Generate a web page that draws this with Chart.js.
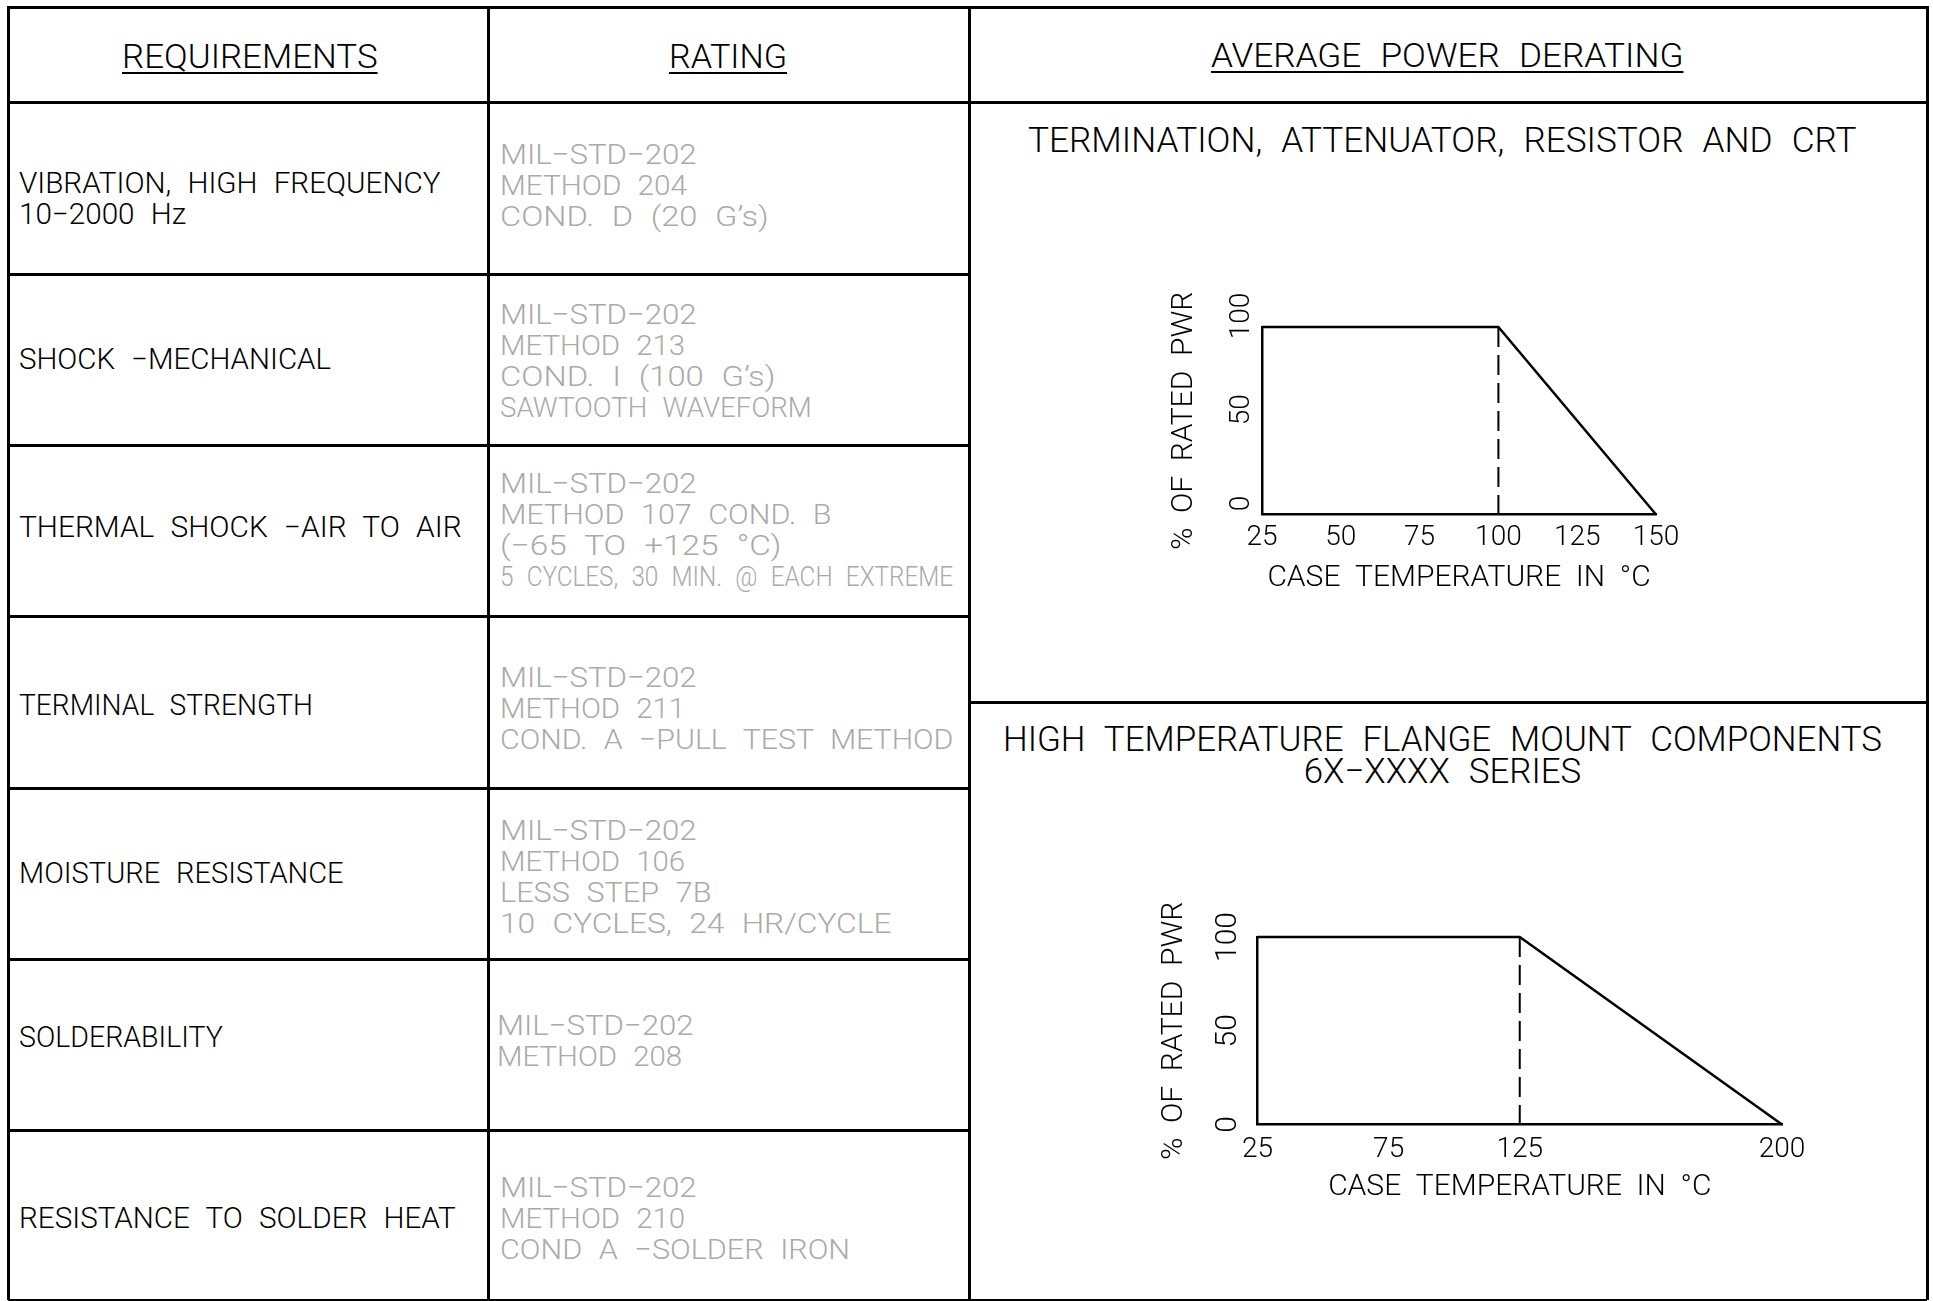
<!DOCTYPE html>
<html><head><meta charset="utf-8">
<script src="https://cdn.jsdelivr.net/npm/chart.js@4.4.1/dist/chart.umd.min.js"></script>
<style>
html,body{margin:0;padding:0;background:#fff;width:1933px;height:1301px;overflow:hidden;}
#page{position:relative;width:1933px;height:1301px;}
.ln{position:absolute;background:#000;}
.t{position:absolute;white-space:pre;font-family:Roboto,"Liberation Sans",sans-serif;font-weight:300;color:#000;transform-origin:left center;word-spacing:0.3em;}
.g{color:#aaaaaa;}
.u{text-decoration:underline;text-decoration-thickness:2px;text-underline-offset:4px;}
canvas{position:absolute;}
</style></head><body><div id="page"></div>
<script>
// ---------------- DATA ----------------
const headers = ["REQUIREMENTS", "RATING", "AVERAGE POWER DERATING"];
const requirements = [
  ["VIBRATION, HIGH FREQUENCY", "10−2000 Hz"],
  ["SHOCK −MECHANICAL"],
  ["THERMAL SHOCK −AIR TO AIR"],
  ["TERMINAL STRENGTH"],
  ["MOISTURE RESISTANCE"],
  ["SOLDERABILITY"],
  ["RESISTANCE TO SOLDER HEAT"]
];
const ratings = [
  ["MIL−STD−202", "METHOD 204", "COND. D (20 G’s)"],
  ["MIL−STD−202", "METHOD 213", "COND. I (100 G’s)", "SAWTOOTH WAVEFORM"],
  ["MIL−STD−202", "METHOD 107 COND. B", "(−65 TO +125 °C)", "5 CYCLES, 30 MIN. @ EACH EXTREME"],
  ["MIL−STD−202", "METHOD 211", "COND. A −PULL TEST METHOD"],
  ["MIL−STD−202", "METHOD 106", "LESS STEP 7B", "10 CYCLES, 24 HR/CYCLE"],
  ["MIL−STD−202", "METHOD 208"],
  ["MIL−STD−202", "METHOD 210", "COND A −SOLDER IRON"]
];
const chart1Title = "TERMINATION, ATTENUATOR, RESISTOR AND CRT";
const chart2Title = ["HIGH TEMPERATURE FLANGE MOUNT COMPONENTS", "6X−XXXX SERIES"];
const yAxisTitle = "% OF RATED PWR";
const xAxisTitle = "CASE TEMPERATURE IN °C";
const yTickValues = [0, 50, 100];

// chart 1: termination, attenuator, resistor and CRT
const c1XTicks = [25, 50, 75, 100, 125, 150];
const c1Temp = [25, 100, 150];
const c1Power = [100, 100, 0];
const c1KneeTemp = 100;

// chart 2: high temperature flange mount (non-linear CAD axis)
const c2XLabels = ["25", "75", "125", "", "200"];
const c2Temp = ["25", "125", "200"];
const c2Power = [100, 100, 0];
const c2KneeTemp = "125";

// ---------------- LAYOUT ----------------
const FONT = 'Roboto, "Liberation Sans", sans-serif';
const wide = s => s.replace(/ /g, '  ');   // CAD-style wide word gaps
const page = document.getElementById('page');
function line(x, y, w, h) {
  const d = document.createElement('div');
  d.className = 'ln';
  d.style.left = x + 'px'; d.style.top = y + 'px';
  d.style.width = w + 'px'; d.style.height = h + 'px';
  page.appendChild(d);
}
// place text (one or more lines) with first-line caps centred on yc, widest line fitted to width w
function text(str, x, yc, size, w, o = {}) {
  const d = document.createElement('div');
  d.className = 't' + (o.cls ? ' ' + o.cls : '');
  d.textContent = str;
  const L = o.lh || 0.85 * size;
  d.style.fontSize = size + 'px';
  d.style.lineHeight = L + 'px';
  if (o.center) d.style.textAlign = 'center';
  d.style.top = (yc - L / 2 + 0.014 * size) + 'px';
  page.appendChild(d);
  const nat = d.offsetWidth;
  const sx = w / nat;
  d.style.left = (o.center ? x - w / 2 : x) + 'px';
  d.style.transform = 'scaleX(' + sx + ')';
}
const LW = 3;
const X0 = 8, X1 = 488, X2 = 969, X3 = 1927, Y0 = 7, YB = 1300;
const rowYs = [102, 274, 445, 616, 788, 959, 1130];
line(X0 - 1.5, Y0 - 1.5, X3 - X0 + 3, LW);
line(X0 - 1.5, Y0, LW, YB - Y0);
line(X1 - 1.5, Y0, LW, YB - Y0);
line(X2 - 1.5, Y0, LW, YB - Y0);
line(X3 - 1.5, Y0, LW, YB - Y0);
line(X0, rowYs[0] - 1.5, X3 - X0, LW);
for (let i = 1; i < rowYs.length; i++) line(X0, rowYs[i] - 1.5, X2 - X0, LW);
line(X2, 702 - 1.5, X3 - X2, LW);
line(X0, YB - 1, X3 - X0, 2);

// headers
text(headers[0], 250, 56.5, 33, 256, {center: true, cls: 'u'});
text(headers[1], 728, 56.5, 33, 118, {center: true, cls: 'u'});
text(headers[2], 1447, 56, 33, 472, {center: true, cls: 'u'});

// requirement column
const reqYs = [183, 359, 527, 705, 873, 1037, 1218];
const reqW = [422, 312, 443, 294, 325, 204, 437];
requirements.forEach((lines, r) => text(lines.join('\n'), 19, reqYs[r], 29.5, reqW[r], {lh: 31}));

// rating column
const ratFirst = [154, 314, 483, 677.5, 830, 1025, 1187];
const ratW = [
  [197, 187, 269],
  [197, 185, 275, 312],
  [197, 331, 281, 453],
  [197, 185, 453],
  [197, 185, 212, 391],
  [197, 185],
  [197, 185, 350]
];
ratings.forEach((lines, r) => lines.forEach((s, k) =>
  text(s, r === 5 ? 497 : 500, ratFirst[r] + k * 31, 28, ratW[r][k], {cls: 'g', lh: 31})));

// right panel titles
text(chart1Title, 1442.5, 140.5, 35, 829, {center: true});
text(chart2Title.join('\n'), 1442.5, 740, 35, 879, {center: true, lh: 32});

// ---------------- CHARTS ----------------
const rotYTicks = {
  id: 'rotYTicks',
  afterDraw(chart, args, opts) {
    const ys = chart.scales.y, ctx = chart.ctx;
    ctx.save();
    ctx.font = '300 ' + opts.size + 'px ' + FONT;
    ctx.fillStyle = '#000';
    ctx.textAlign = 'center';
    ctx.textBaseline = 'middle';
    ys.ticks.forEach(t => {
      const py = ys.getPixelForValue(t.value);
      ctx.save();
      ctx.translate(chart.chartArea.left - opts.gap, py + (opts.shift || 0));
      ctx.rotate(-Math.PI / 2);
      ctx.fillText(String(t.value), 0, 0);
      ctx.restore();
    });
    ctx.restore();
  }
};

function makeCanvas(left, top, w, h) {
  const c = document.createElement('canvas');
  c.width = w; c.height = h;
  c.style.left = left + 'px'; c.style.top = top + 'px';
  c.style.width = w + 'px'; c.style.height = h + 'px';
  page.appendChild(c);
  return c;
}

function buildChart(canvas, cfg) {
  return new Chart(canvas, {
    type: 'line',
    data: {
      datasets: [
        {data: cfg.temps.map((t, i) => ({x: t, y: cfg.power[i]})), borderColor: '#000', borderWidth: 2.5,
         pointRadius: 0, fill: false, tension: 0, clip: false},
        {data: [{x: cfg.knee, y: 100}, {x: cfg.knee, y: 0}], borderColor: '#000', borderWidth: 2,
         borderDash: [20, 8], pointRadius: 0, fill: false, clip: false}
      ]
    },
    options: {
      responsive: false, animation: false, devicePixelRatio: 1,
      layout: {padding: cfg.padding},
      plugins: {legend: {display: false}, tooltip: {enabled: false}, rotYTicks: cfg.yTickOpts},
      scales: {
        x: Object.assign({
          ticks: {padding: cfg.xTickPad, color: '#000', font: {family: FONT, size: 28, weight: '300', lineHeight: 1},
                  maxRotation: 0, minRotation: 0, autoSkip: false},
          grid: {display: false, drawTicks: false},
          border: {display: true, color: '#000', width: 2.5},
          title: {display: true, text: wide(xAxisTitle), color: '#000',
                  font: {family: FONT, size: 30, weight: '300', lineHeight: 1}, padding: {top: 0, bottom: 0}},
          afterFit: s => { s.height = cfg.xHeight; }
        }, cfg.xScale),
        y: {
          min: 0, max: 100,
          afterBuildTicks: s => { s.ticks = yTickValues.map(v => ({value: v})); },
          ticks: {display: false},
          grid: {display: false, drawTicks: false},
          border: {display: true, color: '#000', width: 2.5},
          title: {display: true, text: wide(yAxisTitle), color: '#000',
                  font: {family: FONT, size: 30, weight: '300', lineHeight: 1}, padding: {top: 9, bottom: 0}},
          afterFit: s => { s.width = cfg.yWidth; }
        }
      }
    },
    plugins: [rotYTicks]
  });
}

buildChart(makeCanvas(1140, 290, 560, 310), {
  temps: c1Temp, power: c1Power, knee: c1KneeTemp,
  padding: {left: 20, top: 37, right: 44, bottom: 7},
  xHeight: 78.5, yWidth: 102, xTickPad: 9,
  yTickOpts: {gap: 20, size: 28, shift: -11},
  xScale: {type: 'linear', min: 25, max: 150,
           afterBuildTicks: s => { s.ticks = c1XTicks.map(v => ({value: v})); }}
});
buildChart(makeCanvas(1130, 900, 720, 310), {
  temps: c2Temp, power: c2Power, knee: c2KneeTemp,
  padding: {left: 20, top: 37, right: 68, bottom: 7.5},
  xHeight: 78, yWidth: 107.5, xTickPad: 11,
  yTickOpts: {gap: 29.5, size: 30, shift: 0},
  xScale: {type: 'category', labels: c2XLabels, offset: false}
});
</script></body></html>
